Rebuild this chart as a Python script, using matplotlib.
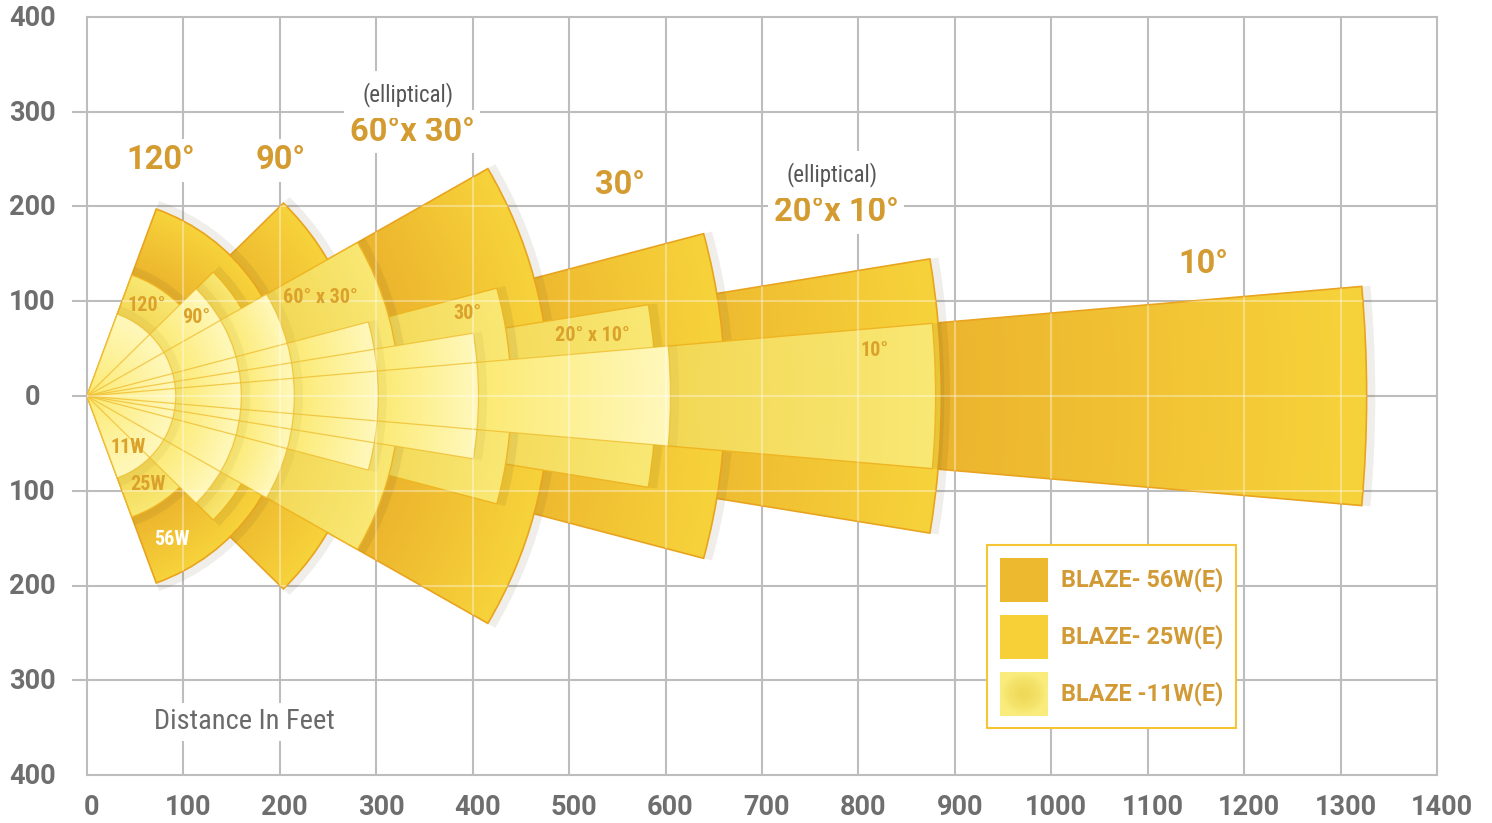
import numpy as np
import matplotlib
matplotlib.use('Agg')
import matplotlib.pyplot as plt
from matplotlib import font_manager
from matplotlib.patches import Wedge, Rectangle, Ellipse, Patch, PathPatch
from matplotlib.path import Path
from matplotlib.collections import LineCollection
from matplotlib.colors import LinearSegmentedColormap
from matplotlib.legend_handler import HandlerBase

# beam spreads, widest first
headings = ['120°', '90°', '60°x 30°', '30°', '20°x 10°', '10°']
inner_labels = ['120°', '90°', '60° x 30°', '30°', '20° x 10°', '10°']
half_angle = [70, 45, 30, 15, 9.4, 5]          # deg above/below the axis, as drawn
reach_56w = [210, 288, 480, 662, 886, 1327]    # feet
reach_25w = [136, 185, 324, 440, 590, 880]
reach_11w = [92, 160, 215, 302, 406, 605]

lamps = ['BLAZE- 56W(E)', 'BLAZE- 25W(E)', 'BLAZE -11W(E)']
watts = ['11W', '25W', '56W']

x_ticks = list(range(0, 1401, 100))
y_ticks = list(range(-400, 401, 100))

# pick a narrow face if there is one
names = {f.name for f in font_manager.fontManager.ttflist}
narrow = None
for n in ['Roboto Condensed', 'Liberation Sans Narrow']:
    if n in names:
        narrow = n
        break
shrink = 1.0 if narrow else 0.86
if narrow is None:
    narrow = 'Roboto'

GOLD = '#D39B30'
GREY = '#6E6E6E'

fig = plt.figure(figsize=(14.92, 8.23), dpi=100)
ax = fig.add_axes([87 / 1492, 48 / 823, 1350 / 1492, 758 / 823])
ax.axis('off')


def beam(R, ang, r_in, c0, c1, edge, lw, z, shade=0.09):
    # soft shadow past the arc
    ax.add_patch(Wedge((0, 0), R + 9, -ang, ang, fc=(0.35, 0.27, 0.1, shade), ec='none', zorder=z))
    w = Wedge((0, 0), R, -ang, ang, fc='none', ec=edge, lw=lw, zorder=z + 0.2)
    ax.add_patch(w)
    h = R * np.sin(np.radians(ang))
    X, Y = np.meshgrid(np.linspace(0, R, 400), np.linspace(-h, h, 400))
    t = np.clip((np.hypot(X, Y) - r_in) / (R - r_in), 0, 1)
    cm = LinearSegmentedColormap.from_list('g', [c0, c1])
    im = ax.imshow(t, extent=(0, R, -h, h), origin='lower', cmap=cm, vmin=0, vmax=1,
                   aspect='auto', interpolation='bilinear', zorder=z + 0.1)
    im.set_clip_path(w)
    return w


# grey grid underneath
for x in x_ticks:
    ax.plot([x, x], [-400, 400], color='#BDBDBD', lw=1.5, zorder=0, clip_on=False)
for y in y_ticks:
    x0 = 0 if abs(y) == 400 else -14.5
    ax.plot([x0, 1400], [y, y], color='#BDBDBD', lw=1.5, zorder=0, clip_on=False)

z = 2
outer = []
for i in reversed(range(6)):
    outer.append(beam(reach_56w[i], half_angle[i], reach_25w[i], '#ECB42D', '#F7D33B', '#E9A41F', 1.2, z))
    z += 1
for i in reversed(range(6)):
    beam(reach_25w[i], half_angle[i], reach_11w[i], '#F3D856', '#F9E874', '#EFB522', 1.0, z)
    z += 1
for i in reversed(range(6)):
    r_in = reach_11w[i - 1] if i > 0 else 0
    beam(reach_11w[i], half_angle[i], r_in, '#FCEA72', '#FFF8BC', 'none', 0, z, shade=0.05)
    z += 1
for i in range(6):
    ax.add_patch(Wedge((0, 0), reach_11w[i], -half_angle[i], half_angle[i], fc='none',
                       ec='#EFBC2C', lw=0.9, alpha=0.75, zorder=z))
z += 1

# faint white grid over the beams
segs = [[(x, -400), (x, 400)] for x in x_ticks] + [[(0, y), (1400, y)] for y in y_ticks]
union = Path.make_compound_path(*[w.get_path() for w in outer])
clip = PathPatch(union, transform=ax.transData)
lc = LineCollection(segs, colors='white', linewidths=1.5, alpha=0.35, zorder=z)
ax.add_collection(lc)
lc.set_clip_path(clip)

# tick labels
for x in x_ticks:
    ax.text(x + 5, -434, str(x), ha='center', va='center', fontsize=19.5, fontweight='bold',
            family='Roboto', color=GREY)
for y in y_ticks:
    ax.text(-57, y - 1.5, str(abs(y)), ha='center', va='center', fontsize=19.5, fontweight='bold',
            family='Roboto', color=GREY)

# headings
box = dict(fc='white', ec='none', pad=4)
big = dict(family='Roboto', fontweight='bold', color=GOLD, fontsize=23.5, ha='center', va='center', zorder=40)
small = dict(family=narrow, color='#555555', fontsize=16.5 * shrink, ha='center', va='center', zorder=41)
ax.text(76.5, 249, headings[0], bbox=box, **big)
ax.text(200.5, 249, headings[1], bbox=box, **big)
ax.text(333, 318, '(elliptical)', bbox=dict(fc='white', ec='none', pad=8), **small)
ax.text(337, 279, headings[2], bbox=box, **big)
ax.text(553, 223, headings[3], **big)
ax.text(773, 234, '(elliptical)', bbox=dict(fc='white', ec='none', pad=8), **small)
ax.text(777, 194, headings[4], bbox=box, **big)
ax.text(1158, 139, headings[5], **big)
ax.text(163, -344, 'Distance In Feet', family=narrow, color='#6A6A6A', fontsize=20.5 * shrink,
        ha='center', va='center', zorder=40, bbox=dict(fc='white', ec='none', pad=4))

# labels inside the beams
inner = dict(family=narrow, fontweight='bold', color='#DBA22B', fontsize=14.5 * shrink,
             ha='center', va='center', zorder=45)
spots = [(62, 95), (113, 83), (242, 103.5), (395, 86.6), (524, 63.4), (817, 47.5)]
for lab, (px, py) in zip(inner_labels, spots):
    ax.text(px, py, lab, **inner)
ax.text(42.5, -54.8, watts[0], **inner)
ax.text(63, -93.9, watts[1], **inner)
ax.text(88, -151, watts[2], **dict(inner, color='white'))


class Swatch(HandlerBase):
    def __init__(self, glow=False):
        super().__init__()
        self.glow = glow

    def create_artists(self, legend, orig_handle, xdescent, ydescent, width, height, fontsize, trans):
        x0, y0 = -xdescent, -ydescent
        arts = [Rectangle((x0, y0), width, height, fc=orig_handle.get_facecolor(), ec='none', transform=trans)]
        if self.glow:
            for k in range(8):
                s = 0.9 - 0.1 * k
                arts.append(Ellipse((x0 + width / 2, y0 + height / 2), width * s, height * s,
                                    fc='#EED44C', ec='none', alpha=0.12, transform=trans))
        return arts


handles = [Patch(fc='#EDB92E', ec='none'), Patch(fc='#F7D038', ec='none'), Patch(fc='#F9EC7C', ec='none')]
hmap = {handles[0]: Swatch(), handles[1]: Swatch(), handles[2]: Swatch(glow=True)}
leg = ax.legend(handles, lamps, handler_map=hmap, loc='upper left',
                bbox_to_anchor=(933.6, -157.3), bbox_transform=ax.transData, borderaxespad=0,
                frameon=True, fancybox=False, edgecolor='#F5C533', framealpha=1,
                prop=dict(family='Roboto', weight='bold', size=16.8), labelcolor='#D29A35',
                handlelength=2.06, handleheight=2.52, labelspacing=0.56, handletextpad=0.56,
                borderpad=0.54)
leg.get_frame().set_linewidth(1.5)
leg.set_zorder(50)

ax.set_xlim(0, 1400)
ax.set_ylim(-400, 400)
fig.savefig('out.png', dpi=100)
